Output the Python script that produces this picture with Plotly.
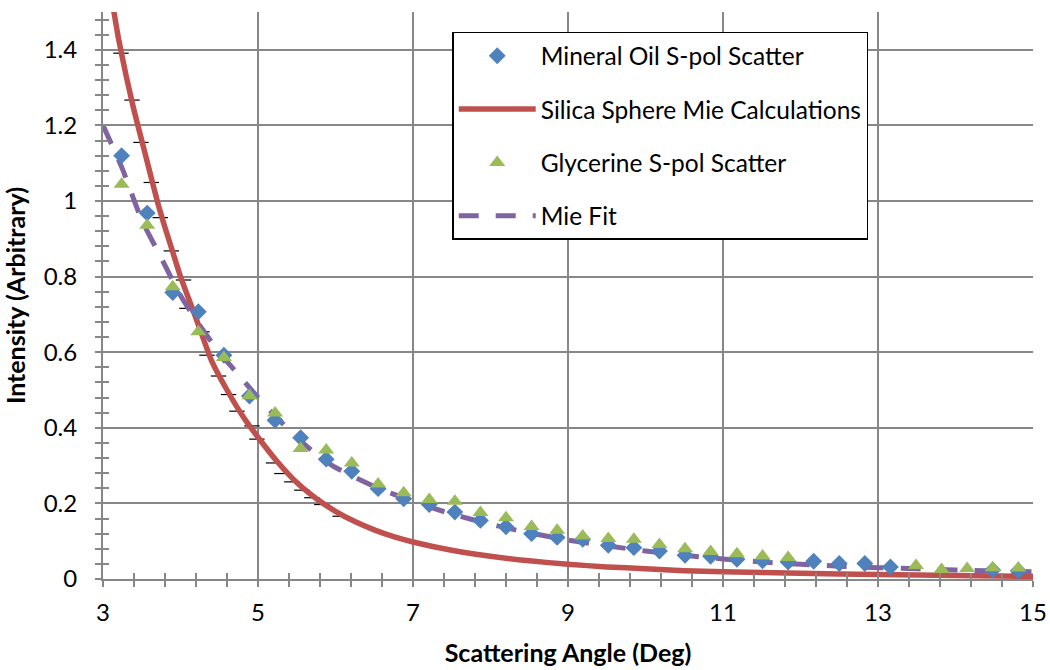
import plotly.graph_objects as go

# ---- data ----
angle = [3.24, 3.57, 3.90, 4.23, 4.56, 4.89, 5.22, 5.55, 5.88, 6.21, 6.55, 6.88,
         7.21, 7.54, 7.87, 8.20, 8.53, 8.86, 9.19, 9.52, 9.85, 10.18, 10.51, 10.84,
         11.18, 11.51, 11.84, 12.17, 12.50, 12.83, 13.16, 13.49, 13.82, 14.15, 14.48, 14.81]

mineral_oil = [1.120, 0.968, 0.758, 0.707, 0.592, 0.484, 0.420, 0.374, 0.317, 0.285, 0.239, 0.212,
               0.197, 0.177, 0.155, 0.138, 0.120, 0.110, 0.105, 0.089, 0.083, 0.074, 0.063, 0.060,
               0.052, 0.048, 0.045, 0.047, 0.041, 0.041, 0.032, None, None, None, 0.024, 0.022]

glycerine = [1.044, 0.936, 0.773, 0.654, 0.586, 0.485, 0.439, 0.345, 0.341, 0.307, 0.251, 0.228,
             0.210, 0.206, 0.176, 0.162, 0.139, 0.129, 0.114, 0.107, 0.105, 0.091, 0.080, 0.073,
             0.067, 0.061, 0.057, None, None, None, None, 0.036, 0.025, 0.028, 0.030, 0.029]

mie_calc_x = [3.10, 3.20, 3.30, 3.40, 3.50, 3.60, 3.70, 3.80, 3.90, 4.00, 4.20, 4.40, 4.60,
              4.80, 5.00, 5.25, 5.50, 5.75, 6.00, 6.25, 6.50, 6.75, 7.00, 7.50, 8.00, 8.50,
              9.00, 9.50, 10.00, 10.50, 11.00, 12.00, 13.00, 14.00, 15.00]
mie_calc_y = [1.55, 1.43, 1.33, 1.24, 1.16, 1.08, 1.00, 0.93, 0.865, 0.80, 0.69, 0.578, 0.50,
              0.432, 0.375, 0.31, 0.255, 0.213, 0.179, 0.152, 0.130, 0.112, 0.098, 0.076, 0.060,
              0.048, 0.039, 0.032, 0.027, 0.022, 0.019, 0.015, 0.012, 0.009, 0.007]

mie_pts_x = [2.92, 3.232, 3.374, 3.490, 3.623, 3.739, 3.881, 4.039, 4.083, 4.277, 4.341, 4.491,
             4.620, 4.728, 4.921, 4.986, 5.200, 5.308, 5.437, 5.566, 5.695, 5.824, 6.060,
             15.11, 15.11]
mie_pts_y = [1.322, 1.391, 1.267, 1.155, 1.049, 0.956, 0.868, 0.791, 0.716, 0.654, 0.592, 0.537,
             0.488, 0.444, 0.405, 0.370, 0.307, 0.279, 0.257, 0.235, 0.215, 0.197, 0.166,
             0.027, 0.008]

fit_x = [3.0, 3.25, 3.5, 3.75, 4.0, 4.25, 4.5, 4.75, 5.0, 5.25, 5.5, 5.75, 6.0, 6.5, 7.0,
         7.5, 8.0, 8.5, 9.0, 9.5, 10.0, 10.5, 11.0, 11.5, 12.0, 12.5, 13.0, 13.5, 14.0, 14.5, 15.0]
fit_y = [1.20, 1.085, 0.95, 0.85, 0.75, 0.67, 0.60, 0.54, 0.48, 0.425, 0.375, 0.33, 0.295, 0.245,
         0.205, 0.172, 0.145, 0.122, 0.103, 0.088, 0.074, 0.063, 0.053, 0.045, 0.039, 0.034,
         0.030, 0.027, 0.024, 0.021, 0.019]

x_ticks = [3, 5, 7, 9, 11, 13, 15]
y_ticks = [0, 0.2, 0.4, 0.6, 0.8, 1.0, 1.2, 1.4]

FONT = "Lato"
GRID = "#878787"

fig = go.Figure()

fig.add_trace(go.Scatter(
    x=mie_pts_x, y=mie_pts_y, mode="markers", showlegend=False, cliponaxis=False,
    marker=dict(symbol="line-ew", size=11, color="black", line=dict(color="black", width=1.2)),
    hoverinfo="skip"))

fig.add_trace(go.Scatter(
    x=mie_calc_x, y=mie_calc_y, mode="lines", name="Silica Sphere Mie Calculations",
    line=dict(color="#C0504D", width=5.5, shape="spline", smoothing=0.5),
    legendgroup="b", legendrank=2))

fig.add_trace(go.Scatter(
    x=fit_x, y=fit_y, mode="lines", name="Mie Fit",
    line=dict(color="#8064A2", width=5, dash="20px,17px", shape="spline", smoothing=0.6),
    legendgroup="d", legendrank=4))

fig.add_trace(go.Scatter(
    x=angle, y=mineral_oil, mode="markers", name="Mineral Oil S-pol Scatter",
    marker=dict(symbol="diamond", size=13, color="#4F81BD"),
    legendgroup="a", legendrank=1))

fig.add_trace(go.Scatter(
    x=angle, y=glycerine, mode="markers", name="Glycerine S-pol Scatter",
    marker=dict(symbol="triangle-up", size=14, color="#9BBB59"),
    legendgroup="c", legendrank=3))

# invisible helper trace so the overlay axes (inside half of crossing ticks) are drawn
fig.add_trace(go.Scatter(x=[], y=[], xaxis="x2", yaxis="y2", showlegend=False, hoverinfo="skip"))

axis_common = dict(showline=True, linecolor=GRID, linewidth=2, zeroline=False, automargin=False,
                   gridcolor=GRID, gridwidth=1.5, tickcolor=GRID, tickwidth=1.5,
                   tickfont=dict(family=FONT, size=24, color="black"))

fig.update_layout(
    width=1050, height=670,
    margin=dict(l=103, r=17, t=12, b=91),
    paper_bgcolor="white", plot_bgcolor="white",
    font=dict(family=FONT, color="black"),
    xaxis=dict(range=[3, 15], tickvals=x_ticks, ticks="outside", ticklen=6,
               minor=dict(dtick=0.4, tick0=3, ticks="outside", ticklen=6, tickcolor=GRID, tickwidth=1.5, showgrid=False),
               title=dict(text="<b>Scattering Angle (Deg)</b>", font=dict(family=FONT, size=25), standoff=20),
               ticklabelstandoff=5,
               **axis_common),
    yaxis=dict(range=[0, 1.5], tickvals=y_ticks, ticks="outside", ticklen=6,
               minor=dict(dtick=0.04, tick0=0, ticks="outside", ticklen=6, tickcolor=GRID, tickwidth=1.5, showgrid=False),
               title=dict(text="<b>Intensity (Arbitrary)</b>", font=dict(family=FONT, size=25), standoff=11),
               ticklabelstandoff=13,
               **axis_common),
    xaxis2=dict(range=[3, 15], overlaying="x", anchor="y", showline=False, showgrid=False, automargin=False,
                zeroline=False, showticklabels=False, tickvals=x_ticks, ticks="inside", ticklen=6,
                tickcolor=GRID, tickwidth=1.5,
                minor=dict(dtick=0.4, tick0=3, ticks="inside", ticklen=6, tickcolor=GRID, tickwidth=1.5)),
    yaxis2=dict(range=[0, 1.5], overlaying="y", anchor="x", showline=False, showgrid=False, automargin=False,
                zeroline=False, showticklabels=False, tickvals=y_ticks, ticks="inside", ticklen=6,
                tickcolor=GRID, tickwidth=1.5,
                minor=dict(dtick=0.04, tick0=0, ticks="inside", ticklen=6, tickcolor=GRID, tickwidth=1.5)),
    legend=dict(x=0.3755, y=0.965, xanchor="left", yanchor="top",
                bgcolor="white", bordercolor="black", borderwidth=1.5,
                font=dict(family=FONT, size=24.5, color="black"),
                traceorder="grouped", tracegroupgap=18.5, itemwidth=77),
    showlegend=True,
)

fig.write_html("out.html")
